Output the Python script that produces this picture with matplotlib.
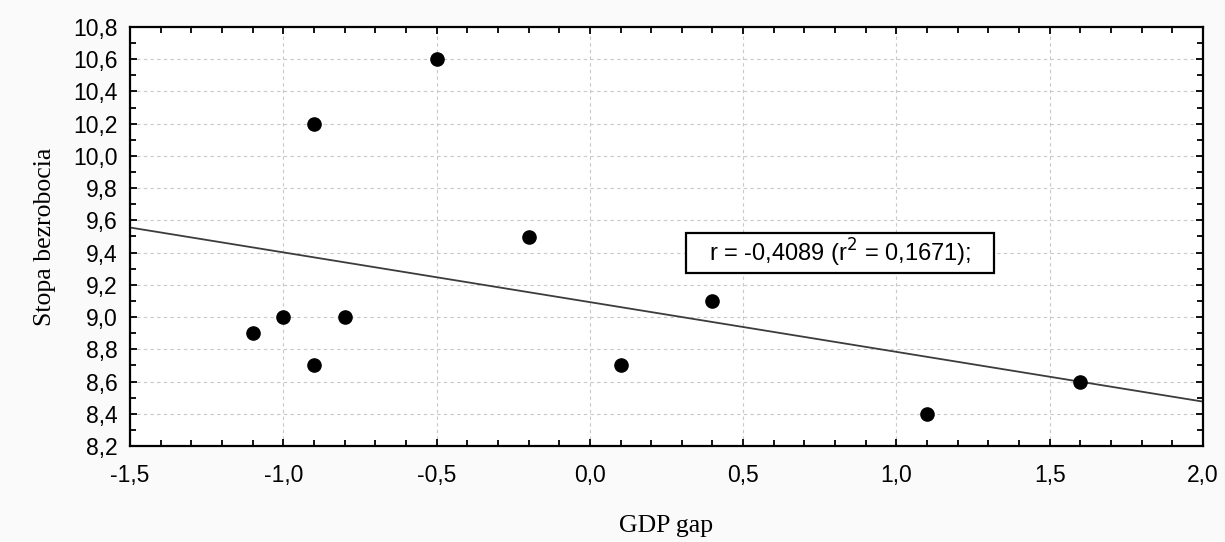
import numpy as np
import matplotlib.pyplot as plt
from matplotlib.patches import Rectangle
from matplotlib.ticker import MultipleLocator, FuncFormatter

# data
gdp_gap = [-1.1, -1.0, -0.9, -0.9, -0.8, -0.5, -0.2, 0.1, 0.4, 1.1, 1.6]
unemployment = [8.9, 9.0, 8.7, 10.2, 9.0, 10.6, 9.5, 8.7, 9.1, 8.4, 8.6]
r_label = '-0,4089'
r2_label = '0,1671'

x = np.array(gdp_gap)
y = np.array(unemployment)
slope, intercept = np.polyfit(x, y, 1)

fig = plt.figure(figsize=(12.25, 5.42), dpi=100, facecolor='#fafafa')
# axes box: x 130..1203 px, y 27..446 px
ax = fig.add_axes([130 / 1225, 1 - 446 / 542, 1073 / 1225, 419 / 542])

xs = np.linspace(-1.5, 2.0, 200)
ax.plot(xs, intercept + slope * xs, color='#3c3c3c', lw=1.3, zorder=2)
ax.plot(x, y, 'o', color='black', markersize=9.5, zorder=3)

ax.set_xlim(-1.5, 2.0)
ax.set_ylim(8.2, 10.8)
ax.xaxis.set_major_locator(MultipleLocator(0.5))
ax.xaxis.set_minor_locator(MultipleLocator(0.1))
ax.yaxis.set_major_locator(MultipleLocator(0.2))
ax.yaxis.set_minor_locator(MultipleLocator(0.1))
comma = FuncFormatter(lambda v, p: f'{v:.1f}'.replace('.', ','))
ax.xaxis.set_major_formatter(comma)
ax.yaxis.set_major_formatter(comma)

ax.grid(True, which='major', ls=(0, (3, 3)), color='#c8c8c8', lw=0.8)
ax.set_axisbelow(True)
ax.tick_params(which='both', direction='in', top=True, right=True, width=1.3,
               labelsize=16.5, labelfontfamily='Liberation Sans')
ax.tick_params(axis='x', pad=13)
ax.tick_params(axis='y', pad=9)
ax.tick_params(which='major', length=5)
ax.tick_params(which='minor', length=4)
for s in ax.spines.values():
    s.set_linewidth(1.6)

ax.set_xlabel('GDP gap', family='Liberation Serif', fontsize=18.5, labelpad=20)
ax.set_ylabel('Stopa bezrobocia', family='Liberation Serif', fontsize=18.5, labelpad=12)

# correlation box
ax.add_patch(Rectangle((0.3135, 9.274), 1.005, 0.248, facecolor='white',
                       edgecolor='black', lw=1.6, zorder=4))
ax.text(0.816, 9.398, f'r = {r_label} (r$^2$ = {r2_label});', family='Liberation Sans',
        fontsize=17, va='center', ha='center', zorder=5)

fig.savefig('out.png', dpi=100, facecolor=fig.get_facecolor())
